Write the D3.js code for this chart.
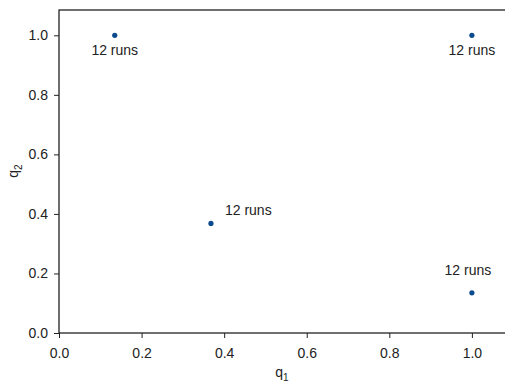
<!DOCTYPE html>
<html>
<head>
<meta charset="utf-8">
<script src="https://cdn.jsdelivr.net/npm/d3@7"></script>
<style>
  html, body { margin: 0; padding: 0; background: #fff; }
  svg { display: block; font-family: "Liberation Sans", Arial, sans-serif; }
</style>
</head>
<body>
<svg id="chart" width="505" height="385"></svg>
<script>
// Run outcomes in (q1, q2) space
const q1Values = [0.135, 1.0, 0.368, 1.0];
const q2Values = [1.0, 1.0, 0.368, 0.135];
const runLabels = ["12 runs", "12 runs", "12 runs", "12 runs"];
// where each label sits relative to its point
const labelPlacement = ["below", "below", "upright", "above"];
const tickValues = [0, 0.2, 0.4, 0.6, 0.8, 1.0];

const svg = d3.select("#chart");
const margin = { left: 59, top: 10, right: -2, bottom: 52 };
const W = 505, H = 385;

const x = d3.scaleLinear().domain([0, 1.085]).range([margin.left, W - margin.right]);
const y = d3.scaleLinear().domain([0, 1.085]).range([H - margin.bottom, margin.top]);

const ink = "#222";

// frame
svg.append("rect")
  .attr("x", x(0)).attr("y", y(1.085))
  .attr("width", x(1.085) - x(0)).attr("height", y(0) - y(1.085))
  .attr("fill", "none").attr("stroke", ink).attr("stroke-width", 1.3);

const xAxis = svg.append("g")
  .attr("transform", `translate(0,${y(0)})`)
  .call(d3.axisBottom(x).tickValues(tickValues).tickFormat(d3.format(".1f")).tickSize(5).tickPadding(10));
const yAxis = svg.append("g")
  .attr("transform", `translate(${x(0)},0)`)
  .call(d3.axisLeft(y).tickValues(tickValues).tickFormat(d3.format(".1f")).tickSize(5).tickPadding(6));

[xAxis, yAxis].forEach(g => {
  g.select(".domain").remove();
  g.selectAll("line").attr("stroke", ink).attr("stroke-width", 1);
  g.selectAll("text").attr("fill", ink).style("font-size", "14px")
    .style("font-family", "'Liberation Sans', Arial, sans-serif");
});

// axis titles with subscripts
const xt = svg.append("text")
  .attr("x", 282).attr("y", 377)
  .attr("text-anchor", "middle").attr("fill", ink).style("font-size", "14px");
xt.append("tspan").text("q");
xt.append("tspan").attr("dy", 4).style("font-size", "10px").text("1");

const yt = svg.append("text")
  .attr("transform", `translate(18,${171}) rotate(-90)`)
  .attr("text-anchor", "middle").attr("fill", ink).style("font-size", "14px");
yt.append("tspan").text("q");
yt.append("tspan").attr("dy", 4).style("font-size", "10px").text("2");

const pts = q1Values.map((v, i) => ({ q1: v, q2: q2Values[i], label: runLabels[i], place: labelPlacement[i] }));

svg.append("g").selectAll("circle").data(pts).join("circle")
  .attr("cx", d => x(d.q1)).attr("cy", d => y(d.q2))
  .attr("r", 2.6).attr("fill", "#0b4a8c");

const offsets = {
  below: { dx: 0, dy: 20, anchor: "middle" },
  above: { dx: -4, dy: -18, anchor: "middle" },
  upright: { dx: 14, dy: -8, anchor: "start" }
};

svg.append("g").selectAll("text").data(pts).join("text")
  .attr("x", d => x(d.q1) + offsets[d.place].dx)
  .attr("y", d => y(d.q2) + offsets[d.place].dy)
  .attr("text-anchor", d => offsets[d.place].anchor)
  .attr("fill", ink).style("font-size", "14px")
  .text(d => d.label);
</script>
</body>
</html>
